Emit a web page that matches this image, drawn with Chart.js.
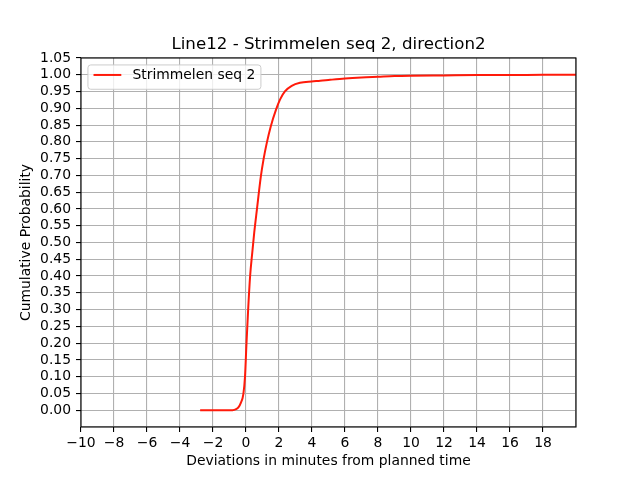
<!DOCTYPE html>
<html>
<head>
<meta charset="utf-8">
<script src="https://cdn.jsdelivr.net/npm/chart.js@4.4.0/dist/chart.umd.min.js"></script>
<style>
    html, body { margin: 0; padding: 0; background: #ffffff; }
</style>
</head>
<body>
<canvas id="myChart" width="640" height="480"></canvas>
<script>
const titleText = 'Line12 - Strimmelen seq 2, direction2';
const seriesLabel = 'Strimmelen seq 2';
const xAxisLabel = 'Deviations in minutes from planned time';
const yAxisLabel = 'Cumulative Probability';

// ECDF
const deviations = [-2.78, -1.5, -0.82, -0.6, -0.45, -0.32, -0.16, -0.06,
    0.03, 0.13, 0.25, 0.38, 0.5, 0.66, 0.9, 1.06,
    1.26, 1.5, 1.82, 2.06, 2.37, 2.77, 3.27, 3.98,
    4.5, 5.1, 6, 7, 8, 9, 10, 12,
    14, 16, 18, 20];
const probabilities = [0, 0, 0, 0.003, 0.009, 0.021, 0.048, 0.10,
    0.20, 0.30, 0.40, 0.47, 0.53, 0.598, 0.697, 0.747,
    0.797, 0.846, 0.896, 0.926, 0.951, 0.967, 0.976, 0.980,
    0.982, 0.985, 0.989, 0.992, 0.994, 0.996, 0.997, 0.998,
    0.999, 0.999, 1.0, 1.0];

const xMin = -10, xMax = 20, xStep = 2;
const yMin = -0.05, yMax = 1.05, yStep = 0.05;

const fontFamily = '"DejaVu Sans", sans-serif';

function fmtX(v) {
    if (Math.abs(v - xMax) < 1e-9) return '';
    return v < 0 ? '\u2212' + Math.abs(v) : String(v);
}

function fmtY(v) {
    if (v < -1e-9) return '';
    return v.toFixed(2);
}

// frame, title and legend drawn like matplotlib
const framePlugin = {
    id: 'frame',
    afterDraw(chart) {
        const ctx = chart.ctx;
        const a = chart.chartArea;
        ctx.save();
        ctx.strokeStyle = '#000000';
        ctx.lineWidth = 1.1;
        ctx.strokeRect(a.left, a.top, a.right - a.left, a.bottom - a.top);

        ctx.fillStyle = '#000000';
        ctx.font = '16.67px ' + fontFamily;
        ctx.textAlign = 'center';
        ctx.textBaseline = 'alphabetic';
        ctx.fillText(titleText, (a.left + a.right) / 2, a.top - 9);

        const ds = chart.data.datasets[0];
        const fs = 13.9;
        ctx.font = fs + 'px ' + fontFamily;
        const tw = ctx.measureText(ds.label).width;
        const bx = a.left + 0.5 * fs;
        const by = a.top + 0.5 * fs;
        const bw = 0.4 * fs + 2.0 * fs + 0.8 * fs + tw + 0.4 * fs;
        const bh = 24.3;
        const r = 2.8;
        ctx.beginPath();
        ctx.moveTo(bx + r, by);
        ctx.lineTo(bx + bw - r, by);
        ctx.quadraticCurveTo(bx + bw, by, bx + bw, by + r);
        ctx.lineTo(bx + bw, by + bh - r);
        ctx.quadraticCurveTo(bx + bw, by + bh, bx + bw - r, by + bh);
        ctx.lineTo(bx + r, by + bh);
        ctx.quadraticCurveTo(bx, by + bh, bx, by + bh - r);
        ctx.lineTo(bx, by + r);
        ctx.quadraticCurveTo(bx, by, bx + r, by);
        ctx.closePath();
        ctx.fillStyle = 'rgba(255,255,255,0.8)';
        ctx.fill();
        ctx.strokeStyle = '#cccccc';
        ctx.lineWidth = 1;
        ctx.stroke();

        const ly = by + 10;
        const lx = bx + 0.4 * fs;
        ctx.strokeStyle = ds.borderColor;
        ctx.lineWidth = ds.borderWidth;
        ctx.beginPath();
        ctx.moveTo(lx, ly);
        ctx.lineTo(lx + 2.0 * fs, ly);
        ctx.stroke();

        ctx.fillStyle = '#000000';
        ctx.textAlign = 'left';
        ctx.textBaseline = 'middle';
        ctx.fillText(ds.label, lx + 2.8 * fs, ly + 0.5);
        ctx.restore();
    }
};

const ctx = document.getElementById('myChart').getContext('2d');
const myChart = new Chart(ctx, {
    type: 'line',
    data: {
        datasets: [{
            label: seriesLabel,
            data: deviations.map((x, i) => ({ x: x, y: probabilities[i] })),
            borderColor: '#ff1a0a',
            borderWidth: 2,
            pointRadius: 0,
            fill: false,
            cubicInterpolationMode: 'monotone'
        }]
    },
    options: {
        responsive: false,
        animation: false,
        devicePixelRatio: 1,
        layout: { padding: { top: 58, right: 64, left: 0, bottom: 0 } },
        plugins: {
            legend: { display: false },
            title: { display: false },
            tooltip: { enabled: false }
        },
        scales: {
            x: {
                type: 'linear',
                min: xMin,
                max: xMax,
                afterFit: (scale) => { scale.height = 53; },
                border: { display: false },
                grid: {
                    color: '#b0b0b0',
                    lineWidth: 1.1,
                    tickLength: 5,
                    tickColor: (c) => (c.tick && Math.abs(c.tick.value - xMax) < 1e-9) ? 'rgba(0,0,0,0)' : '#000000',
                    tickWidth: 1.1
                },
                ticks: {
                    stepSize: xStep,
                    autoSkip: false,
                    maxRotation: 0,
                    padding: 3,
                    color: '#000000',
                    font: { family: fontFamily, size: 13.9 },
                    callback: (v) => fmtX(v)
                },
                title: {
                    display: true,
                    text: xAxisLabel,
                    color: '#000000',
                    font: { family: fontFamily, size: 13.9 },
                    padding: { top: 0, bottom: 10 }
                }
            },
            y: {
                type: 'linear',
                min: yMin,
                max: yMax,
                afterFit: (scale) => { scale.width = 81; },
                border: { display: false },
                grid: {
                    color: '#b0b0b0',
                    lineWidth: 1.1,
                    tickLength: 5,
                    tickColor: (c) => (c.tick && c.tick.value < -1e-9) ? 'rgba(0,0,0,0)' : '#000000',
                    tickWidth: 1.1
                },
                ticks: {
                    stepSize: yStep,
                    autoSkip: false,
                    padding: 5,
                    color: '#000000',
                    font: { family: fontFamily, size: 13.9 },
                    callback: (v) => fmtY(v)
                },
                title: {
                    display: true,
                    text: yAxisLabel,
                    color: '#000000',
                    font: { family: fontFamily, size: 13.9 },
                    padding: { top: 17.7, bottom: 0 }
                }
            }
        }
    },
    plugins: [framePlugin]
});
</script>
</body>
</html>
